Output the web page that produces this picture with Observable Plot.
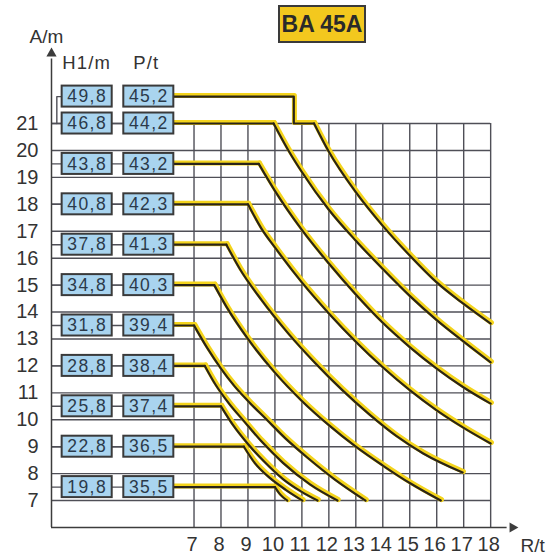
<!DOCTYPE html>
<html><head><meta charset="utf-8">
<script src="https://cdn.jsdelivr.net/npm/d3@7"></script>
<script src="https://cdn.jsdelivr.net/npm/@observablehq/plot@0.6"></script>
<style>
html,body{margin:0;padding:0;background:#fff;overflow:hidden}
#wrap{position:relative;width:553px;height:556px}
#wrap svg{position:absolute;left:0;top:0}
#title{position:absolute;left:278px;top:5px;width:84px;height:34px;background:#f3c81e;border:2px solid #3a3a3a;font:bold 23px "Liberation Sans",Arial,sans-serif;color:#2a2a2a;display:flex;align-items:center;justify-content:center;z-index:2}
</style></head><body><div id="wrap"><div id="title">BA 45A</div></div>
<script>
// ---- data ----
const rows = [22, 21, 19.5, 18, 16.5, 15, 13.5, 12, 10.5, 9, 7.5];
const h1Labels = ["49,8","46,8","43,8","40,8","37,8","34,8","31,8","28,8","25,8","22,8","19,8"];
const pLabels  = ["45,2","44,2","43,2","42,3","41,3","40,3","39,4","38,4","37,4","36,5","35,5"];
const kneeR = [11.45, 9.95, 9.4, 9.0, 8.2, 7.75, 7.0, 7.4, 8.0, 8.85, 10.0];
const stepR = 10.7; // top row steps down to 21 here
const curveR = [
  [11.45,12,13,14,15,16,17,18],
  [9.95,10.5,11,12,13,14,15,16,17,18],
  [9.4,10,11,12,13,14,15,16,17,18],
  [9.0,9.5,10,11,12,13,14,15,16,17,18],
  [8.2,8.7,9.5,10.5,11.5,12.5,13.5,14.5,15.5,16.96],
  [7.75,8.2,9,10,11,12,13,14,15,16.15],
  [7.0,7.5,8,8.5,9,9.7,10.4,11.2,12.2,13.36],
  [7.4,7.8,8.3,8.85,9.5,10.3,11.3,12.32],
  [8.0,8.45,9.0,9.6,10.3,10.95,11.58],
  [8.85,9.25,9.8,10.4,11.02],
  [10.0,10.2,10.46]
];
const curveA = [
  [21,19.95,18.45,17.2,16.1,15.1,14.3,13.57],
  [21,20.0,19.2,17.8,16.65,15.6,14.6,13.7,12.9,12.13],
  [19.5,18.5,17.05,15.8,14.65,13.6,12.7,11.9,11.2,10.6],
  [18,17.1,16.4,15.1,13.95,12.9,11.95,11.1,10.35,9.7,9.12],
  [16.5,15.6,14.45,13.2,12.1,11.1,10.2,9.4,8.75,8.04],
  [15,14.2,13.0,11.75,10.7,9.8,9.0,8.3,7.65,7.0],
  [13.5,12.65,11.9,11.25,10.7,10.0,9.3,8.6,7.8,7.0],
  [12,11.3,10.6,9.95,9.2,8.4,7.6,7.0],
  [10.5,9.8,9.1,8.45,7.8,7.35,7.0],
  [9,8.4,7.85,7.4,7.0],
  [7.5,7.22,7.0]
];
const xTicks = [7,8,9,10,11,12,13,14,15,16,17,18];
const yTicks = [7,8,9,10,11,12,13,14,15,16,17,18,19,20,21];

// ---- layout constants ----
const axisR = 1.715, xMax = 18.81, yMin = 6, yMax = 23.6;
const boxH1 = [2.11, 3.966], boxP = [4.396, 6.251], boxHalf = 0.39;
const gridC = "#4f4f57", axisC = "#3c3c3c", yellow = "#f4d41c", ink = "#2a2418";
const gridTop = 21, gridRight = 18;

// ---- derived tables ----
const curvePts = curveR.flatMap((rs, i) => rs.map((r, j) => ({id: i, R: r, A: curveA[i][j]})));
const horizPts = rows.flatMap((row, i) => i === 0
  ? [{id:i,R:boxP[1],A:row},{id:i,R:stepR,A:row},{id:i,R:stepR,A:rows[1]},{id:i,R:kneeR[i],A:rows[1]}]
  : [{id:i,R:boxP[1],A:row},{id:i,R:kneeR[i],A:row}]);
const boxes = rows.flatMap((row, i) => [
  {x1: boxH1[0], x2: boxH1[1], y1: row - boxHalf, y2: row + boxHalf, label: h1Labels[i], row},
  {x1: boxP[0], x2: boxP[1], y1: row - boxHalf, y2: row + boxHalf, label: pLabels[i], row}
]);
const connRows = rows.slice(1);
const topConn = [{R: (axisR + boxH1[0]) / 2, A: rows[1]}, {R: (axisR + boxH1[0]) / 2, A: rows[0]}, {R: boxH1[0], A: rows[0]}];

const curveStyle = (extra) => Object.assign({x: "R", y: "A", z: "id", strokeLinecap: "round", strokeLinejoin: "round"}, extra);

const chart = Plot.plot({
  width: 553, height: 556,
  marginLeft: 51, marginRight: 41, marginTop: 53, marginBottom: 29,
  x: {domain: [axisR, xMax]},
  y: {domain: [yMin, yMax]},
  style: {fontFamily: "'Liberation Sans', Arial, sans-serif", fontSize: "20px", background: "white", overflow: "visible"},
  marks: [
    Plot.ruleY(yTicks, {y: d => d, x1: axisR, x2: gridRight, stroke: gridC, strokeWidth: 1.4}),
    Plot.ruleX(xTicks, {x: d => d, y1: yMin, y2: gridTop, stroke: gridC, strokeWidth: 1.4}),
    Plot.ruleY(connRows, {y: d => d, x1: axisR, x2: boxP[1], stroke: gridC, strokeWidth: 1.4}),
    Plot.line(topConn, {x: "R", y: "A", stroke: gridC, strokeWidth: 1.4}),
    // axes
    Plot.ruleX([axisR], {y1: yMin, y2: yMax - 0.2, stroke: axisC, strokeWidth: 1.5}),
    Plot.ruleY([yMin], {x1: axisR, x2: xMax - 0.2, stroke: axisC, strokeWidth: 1.5}),
    Plot.dot([0], {x: axisR, y: yMax, symbol: "triangle", r: 3.8, fill: axisC, stroke: "none"}),
    Plot.dot([0], {x: xMax, y: yMin, symbol: "triangle", r: 3.8, fill: axisC, stroke: "none", rotate: 90}),
    // curves: yellow halo then dark line
    Plot.line(horizPts, curveStyle({curve: "linear", stroke: yellow, strokeWidth: 5, dx: 0.6, dy: -1})),
    Plot.line(curvePts, curveStyle({curve: "monotone-x", stroke: yellow, strokeWidth: 5, dx: 0.8, dy: -1})),
    Plot.line(horizPts, curveStyle({curve: "linear", stroke: ink, strokeWidth: 2.2})),
    Plot.line(curvePts, curveStyle({curve: "monotone-x", stroke: ink, strokeWidth: 2.2})),
    // boxes
    Plot.rect(boxes, {x1: "x1", x2: "x2", y1: "y1", y2: "y2", fill: "#a9d4ef", stroke: "#3a3a3a", strokeWidth: 2}),
    Plot.text(boxes, {x: d => (d.x1 + d.x2) / 2, y: "row", text: "label", fontSize: 17.5, fill: "#2b3a4a"}),
    // axis tick labels
    Plot.axisY(yTicks, {tickSize: 0, tickPadding: 13, fontSize: 20, fill: "#333", label: null}),
    Plot.axisX(xTicks, {tickSize: 0, tickPadding: 9, fontSize: 20, fill: "#333", label: null, dx: -2}),
    // titles
    Plot.text(["A/m"], {frameAnchor: "top-left", dx: -22, dy: -17, textAnchor: "start", lineAnchor: "middle", fontSize: 19, fill: "#333"}),
    Plot.text(["H1/m"], {x: boxH1[0], y: rows[0] + 1.25, textAnchor: "start", fontSize: 18.5, fill: "#333"}),
    Plot.text(["P/t"], {x: boxP[0] + 0.35, y: rows[0] + 1.25, textAnchor: "start", fontSize: 18.5, fill: "#333"}),
    Plot.text(["R/t"], {frameAnchor: "bottom-right", dx: 8, dy: 18, textAnchor: "start", lineAnchor: "middle", fontSize: 19, fill: "#333"})
  ]
});
document.getElementById("wrap").appendChild(chart);
d3.select(chart).selectAll("text").filter(function(){ return /^\d\d,\d$/.test(this.textContent); }).style("letter-spacing", "1.4px");
d3.select(chart).selectAll("text").filter(function(){ return this.textContent === "H1/m" || this.textContent === "P/t"; }).style("letter-spacing", "1.2px");
</script></body></html>
